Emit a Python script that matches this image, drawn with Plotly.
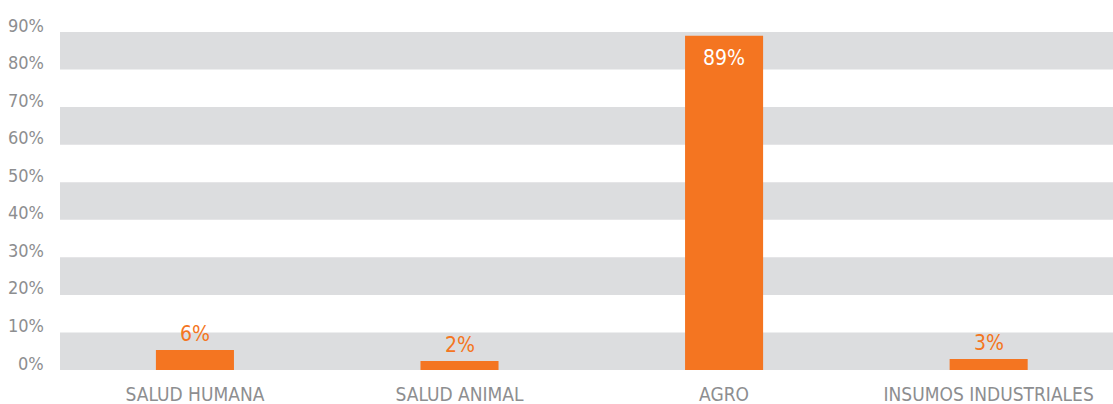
import plotly.graph_objects as go

categories = ["SALUD HUMANA", "SALUD ANIMAL", "AGRO", "INSUMOS INDUSTRIALES"]
values = [5.3, 2.4, 89, 2.9]
value_labels = ["6%", "2%", "89%", "3%"]
y_ticks = [0, 10, 20, 30, 40, 50, 60, 70, 80, 90]
y_tick_labels = ["0%", "10%", "20%", "30%", "40%", "50%", "60%", "70%", "80%", "90%"]
band_starts = [0, 20, 40, 60, 80]

ORANGE = "#f47521"
GRAY_TXT = "#8d8e90"
BAND = "#dcdddf"
NARROW = "DejaVu Sans Condensed, Liberation Sans Narrow, sans-serif"

fig = go.Figure()
fig.add_trace(go.Bar(
    x=list(range(len(categories))),
    y=values,
    width=0.295,
    marker=dict(color=ORANGE, line=dict(width=0)),
    hoverinfo="skip",
))

shapes = []
for b in band_starts:
    shapes.append(dict(type="rect", xref="paper", yref="y", x0=0, x1=1, y0=b, y1=b + 10,
                       fillcolor=BAND, line=dict(width=0), layer="below"))

annotations = []
for v, t in zip(y_ticks, y_tick_labels):
    annotations.append(dict(xref="paper", yref="y", x=0, y=v, xanchor="right", yanchor="middle",
                            xshift=-14, yshift=7, text=t, showarrow=False,
                            font=dict(family=NARROW, size=18, color=GRAY_TXT)))

for i, (v, t) in enumerate(zip(values, value_labels)):
    inside = v > 50
    annotations.append(dict(xref="x", yref="y", x=i, y=v,
                            xanchor="center", yanchor="top" if inside else "bottom",
                            yshift=-8 if inside else 2, text=t, showarrow=False,
                            font=dict(family=NARROW, size=21,
                                      color="white" if inside else ORANGE)))

fig.update_layout(
    width=1113, height=404, autosize=False,
    margin=dict(l=60, r=0, t=32, b=34, pad=0),
    paper_bgcolor="white", plot_bgcolor="white",
    showlegend=False,
    shapes=shapes,
    annotations=annotations,
    xaxis=dict(
        range=[-0.51, 3.47],
        tickmode="array", tickvals=list(range(len(categories))), ticktext=categories,
        tickfont=dict(family=NARROW, size=19, color=GRAY_TXT),
        showgrid=False, zeroline=False, showline=False, ticks="", ticklabelstandoff=11,
        fixedrange=True,
    ),
    yaxis=dict(
        range=[0, 90], showticklabels=False, showgrid=False, zeroline=False,
        showline=False, ticks="", fixedrange=True,
    ),
)

fig.write_html("out.html", config={"displayModeBar": False},
               post_script="document.body.style.margin='0';document.body.style.overflow='hidden';")
